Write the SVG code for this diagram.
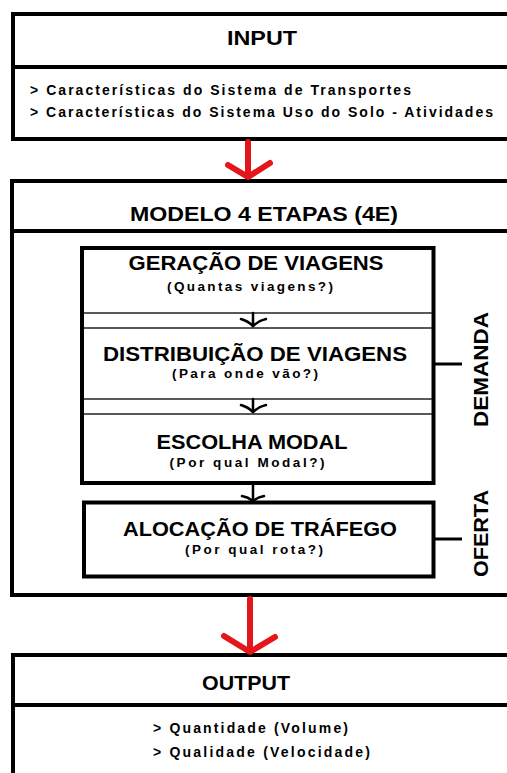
<svg xmlns="http://www.w3.org/2000/svg" width="507" height="773" viewBox="0 0 507 773">
<style>
.box{fill:#fff;stroke:#000;stroke-width:4}
.div{stroke:#000;stroke-width:4}
.thin{stroke:#222;stroke-width:1.5}
.t{font-family:"Liberation Sans",Arial,sans-serif;font-weight:bold;fill:#000}
.big{font-size:21px}
.hd{font-size:20px}
.sm{font-size:14px}
.ps{font-size:13.5px}
.red{fill:none;stroke:#e3161b;stroke-width:6;stroke-linecap:round;stroke-linejoin:round}
.blk{fill:none;stroke:#000;stroke-width:2.5;stroke-linecap:round;stroke-linejoin:round}
.br{stroke:#000;stroke-width:3}
</style>
<rect width="507" height="773" fill="#fff"/>
<g id="input">
<rect class="box" x="13" y="14" width="510" height="125"/>
<line class="div" x1="13" y1="67" x2="523" y2="67"/>
<text class="t hd" x="262" y="45" text-anchor="middle" textLength="70" lengthAdjust="spacingAndGlyphs">INPUT</text>
<text class="t sm" x="30" y="95" textLength="381" lengthAdjust="spacing">&gt; Características do Sistema de Transportes</text>
<text class="t sm" x="30" y="117" textLength="463" lengthAdjust="spacing">&gt; Características do Sistema Uso do Solo - Atividades</text>
</g>
<g id="modelo">
<rect class="box" x="12" y="181" width="511" height="414"/>
<line class="div" x1="12" y1="231" x2="523" y2="231"/>
<text class="t big" x="264" y="221" text-anchor="middle" textLength="268" lengthAdjust="spacingAndGlyphs">MODELO 4 ETAPAS (4E)</text>
</g>
<g id="demanda-steps">
<rect class="box" x="82" y="248" width="351.5" height="235"/>
<line class="thin" x1="84" y1="313" x2="432" y2="313"/>
<line class="thin" x1="84" y1="328" x2="432" y2="328"/>
<line class="thin" x1="84" y1="399" x2="432" y2="399"/>
<line class="thin" x1="84" y1="414" x2="432" y2="414"/>
</g>
<g id="geracao">
<text class="t big" x="256" y="270" text-anchor="middle" textLength="255" lengthAdjust="spacingAndGlyphs">GERAÇÃO DE VIAGENS</text>
<text class="t ps" x="250" y="291" text-anchor="middle" textLength="166" lengthAdjust="spacing">(Quantas viagens?)</text>
</g>
<g id="distribuicao">
<text class="t big" x="255" y="361" text-anchor="middle" textLength="304" lengthAdjust="spacingAndGlyphs">DISTRIBUIÇÃO DE VIAGENS</text>
<text class="t ps" x="245" y="378" text-anchor="middle" textLength="146" lengthAdjust="spacing">(Para onde vão?)</text>
</g>
<g id="escolha">
<text class="t big" x="252" y="449" text-anchor="middle" textLength="191" lengthAdjust="spacingAndGlyphs">ESCOLHA MODAL</text>
<text class="t ps" x="247" y="467" text-anchor="middle" textLength="155" lengthAdjust="spacing">(Por qual Modal?)</text>
</g>
<g id="alocacao">
<rect class="box" x="84" y="502.5" width="349.5" height="74"/>
<text class="t big" x="260" y="536" text-anchor="middle" textLength="274" lengthAdjust="spacingAndGlyphs">ALOCAÇÃO DE TRÁFEGO</text>
<text class="t ps" x="254" y="554" text-anchor="middle" textLength="138" lengthAdjust="spacing">(Por qual rota?)</text>
</g>
<g id="demanda-label">
<line class="br" x1="435" y1="364" x2="462" y2="364"/>
<text class="t big" transform="translate(488,369.5) rotate(-90)" text-anchor="middle" textLength="115" lengthAdjust="spacingAndGlyphs">DEMANDA</text>
</g>
<g id="oferta-label">
<line class="br" x1="435" y1="539" x2="462" y2="539"/>
<text class="t big" transform="translate(488,533.5) rotate(-90)" text-anchor="middle" textLength="87" lengthAdjust="spacingAndGlyphs">OFERTA</text>
</g>
<g id="output">
<rect class="box" x="13" y="655" width="510" height="140"/>
<line class="div" x1="13" y1="705" x2="523" y2="705"/>
<text class="t hd" x="246" y="690" text-anchor="middle" textLength="88" lengthAdjust="spacingAndGlyphs">OUTPUT</text>
<text class="t sm" x="153" y="733" textLength="195" lengthAdjust="spacing">&gt; Quantidade (Volume)</text>
<text class="t sm" x="153" y="757" textLength="217" lengthAdjust="spacing">&gt; Qualidade (Velocidade)</text>
</g>
<g id="connectors">
<line class="red" x1="248" y1="142" x2="248" y2="176"/>
<polyline class="red" points="228,165 248,177 270,163"/>
<line class="red" x1="250" y1="599" x2="250" y2="651"/>
<polyline class="red" points="224,636 250,652 275,637"/>
<line class="blk" x1="253" y1="313" x2="253" y2="326"/>
<path class="blk" d="M241,319 Q248,321 253,326 Q258,321 266,319"/>
<line class="blk" x1="253" y1="399" x2="253" y2="412"/>
<path class="blk" d="M241,405 Q248,407 253,412 Q258,407 266,405"/>
<line class="blk" x1="253" y1="485" x2="253" y2="501"/>
<path class="blk" d="M242,496 Q248,497 253,501 Q258,497 264,496"/>
</g>
</svg>
